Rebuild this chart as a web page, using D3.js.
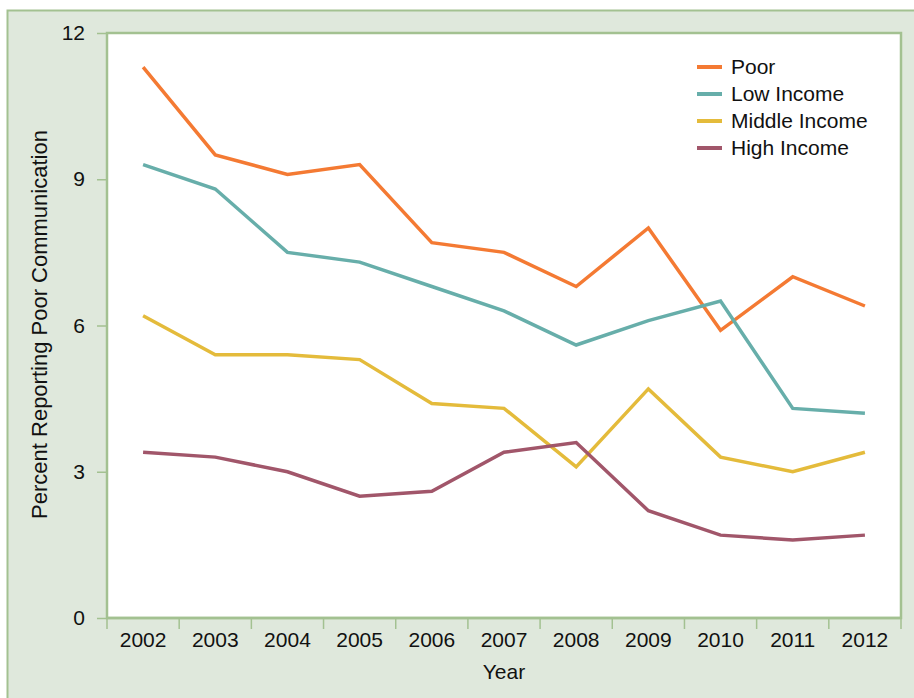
<!DOCTYPE html>
<html>
<head>
<meta charset="utf-8">
<script src="https://cdn.jsdelivr.net/npm/d3@7"></script>
<style>
  html, body { margin: 0; padding: 0; background: #ffffff; }
  svg { display: block; font-family: "Liberation Sans", Arial, Helvetica, sans-serif; }
</style>
</head>
<body>
<svg id="chart" width="914" height="698"></svg>
<script>
// Survey years
const years = ["2002", "2003", "2004", "2005", "2006", "2007", "2008", "2009", "2010", "2011", "2012"];

// Percent reporting poor communication, by income group
const poor   = [11.3, 9.5, 9.1, 9.3, 7.7, 7.5, 6.8, 8.0, 5.9, 7.0, 6.4];
const low    = [9.3, 8.8, 7.5, 7.3, 6.8, 6.3, 5.6, 6.1, 6.5, 4.3, 4.2];
const middle = [6.2, 5.4, 5.4, 5.3, 4.4, 4.3, 3.1, 4.7, 3.3, 3.0, 3.4];
const high   = [3.4, 3.3, 3.0, 2.5, 2.6, 3.4, 3.6, 2.2, 1.7, 1.6, 1.7];

const seriesNames = ["Poor", "Low Income", "Middle Income", "High Income"];
const seriesColors = ["#f47a33", "#67aeaa", "#e4bb3b", "#a1566a"];
const yTicks = [0, 3, 6, 9, 12];

const series = [poor, low, middle, high].map((vals, i) => ({
  name: seriesNames[i], color: seriesColors[i], values: vals
}));

const frameColor = "#a3c191";
const panelFill = "#dfe8dc";

const svg = d3.select("#chart");
const plot = { left: 107, top: 33, right: 901, bottom: 618 };

// outer panel
svg.append("rect")
  .attr("x", 7.5).attr("y", 10.5)
  .attr("width", 940).attr("height", 720)
  .attr("fill", panelFill)
  .attr("stroke", frameColor).attr("stroke-width", 2);

// plotting area
svg.append("rect")
  .attr("x", plot.left).attr("y", plot.top)
  .attr("width", plot.right - plot.left).attr("height", plot.bottom - plot.top)
  .attr("fill", "#ffffff")
  .attr("stroke", frameColor).attr("stroke-width", 2.5);

const x = d3.scaleBand().domain(years).range([plot.left, plot.right]);
const y = d3.scaleLinear().domain([0, 12]).range([plot.bottom, plot.top]);

// y axis
const yAxis = svg.append("g")
  .attr("transform", `translate(${plot.left},0)`)
  .call(d3.axisLeft(y).tickValues(yTicks).tickSize(10).tickPadding(12).tickFormat(d3.format("d")));
yAxis.select(".domain").remove();
yAxis.selectAll(".tick line").attr("stroke", frameColor).attr("stroke-width", 1.5);
yAxis.selectAll(".tick text")
  .attr("fill", "#111").style("font-size", "21px");

// x axis: ticks sit on band boundaries, labels centred in bands
const xg = svg.append("g").attr("transform", `translate(0,${plot.bottom})`);
xg.append("line")
  .attr("x1", plot.left).attr("x2", plot.right)
  .attr("stroke", frameColor).attr("stroke-width", 2.5);
const boundaries = years.map(d => x(d)).concat([x(years[years.length - 1]) + x.bandwidth()]);
xg.selectAll("line.tick")
  .data(boundaries).enter().append("line")
  .attr("class", "tick")
  .attr("x1", d => d).attr("x2", d => d)
  .attr("y1", 0).attr("y2", 11)
  .attr("stroke", frameColor).attr("stroke-width", 1.5);
xg.selectAll("text.lab")
  .data(years).enter().append("text")
  .attr("class", "lab")
  .attr("x", d => x(d) + x.bandwidth() / 2)
  .attr("y", 29)
  .attr("text-anchor", "middle")
  .attr("fill", "#111")
  .style("font-size", "21px")
  .text(d => d);

// axis titles
svg.append("text")
  .attr("x", (plot.left + plot.right) / 2).attr("y", 679)
  .attr("text-anchor", "middle").attr("fill", "#111")
  .style("font-size", "21px")
  .text("Year");
svg.append("text")
  .attr("transform", `translate(47,${(plot.top + plot.bottom) / 2 - 1}) rotate(-90)`)
  .attr("text-anchor", "middle").attr("fill", "#111")
  .style("font-size", "22px")
  .text("Percent Reporting Poor Communication");

// series lines
const line = d3.line()
  .x((d, i) => x(years[i]) + x.bandwidth() / 2)
  .y(d => y(d));

svg.append("g").selectAll("path")
  .data(series).enter().append("path")
  .attr("d", d => line(d.values))
  .attr("fill", "none")
  .attr("stroke", d => d.color)
  .attr("stroke-width", 3.5)
  .attr("stroke-linejoin", "miter");

// legend
const legend = svg.append("g").attr("transform", "translate(697,67)");
const rows = legend.selectAll("g").data(series).enter().append("g")
  .attr("transform", (d, i) => `translate(0,${i * 27})`);
rows.append("line")
  .attr("x1", 0).attr("x2", 25).attr("y1", 0).attr("y2", 0)
  .attr("stroke", d => d.color).attr("stroke-width", 4);
rows.append("text")
  .attr("x", 34).attr("y", 7)
  .attr("fill", "#111")
  .style("font-size", "21px")
  .text(d => d.name);
</script>
</body>
</html>
